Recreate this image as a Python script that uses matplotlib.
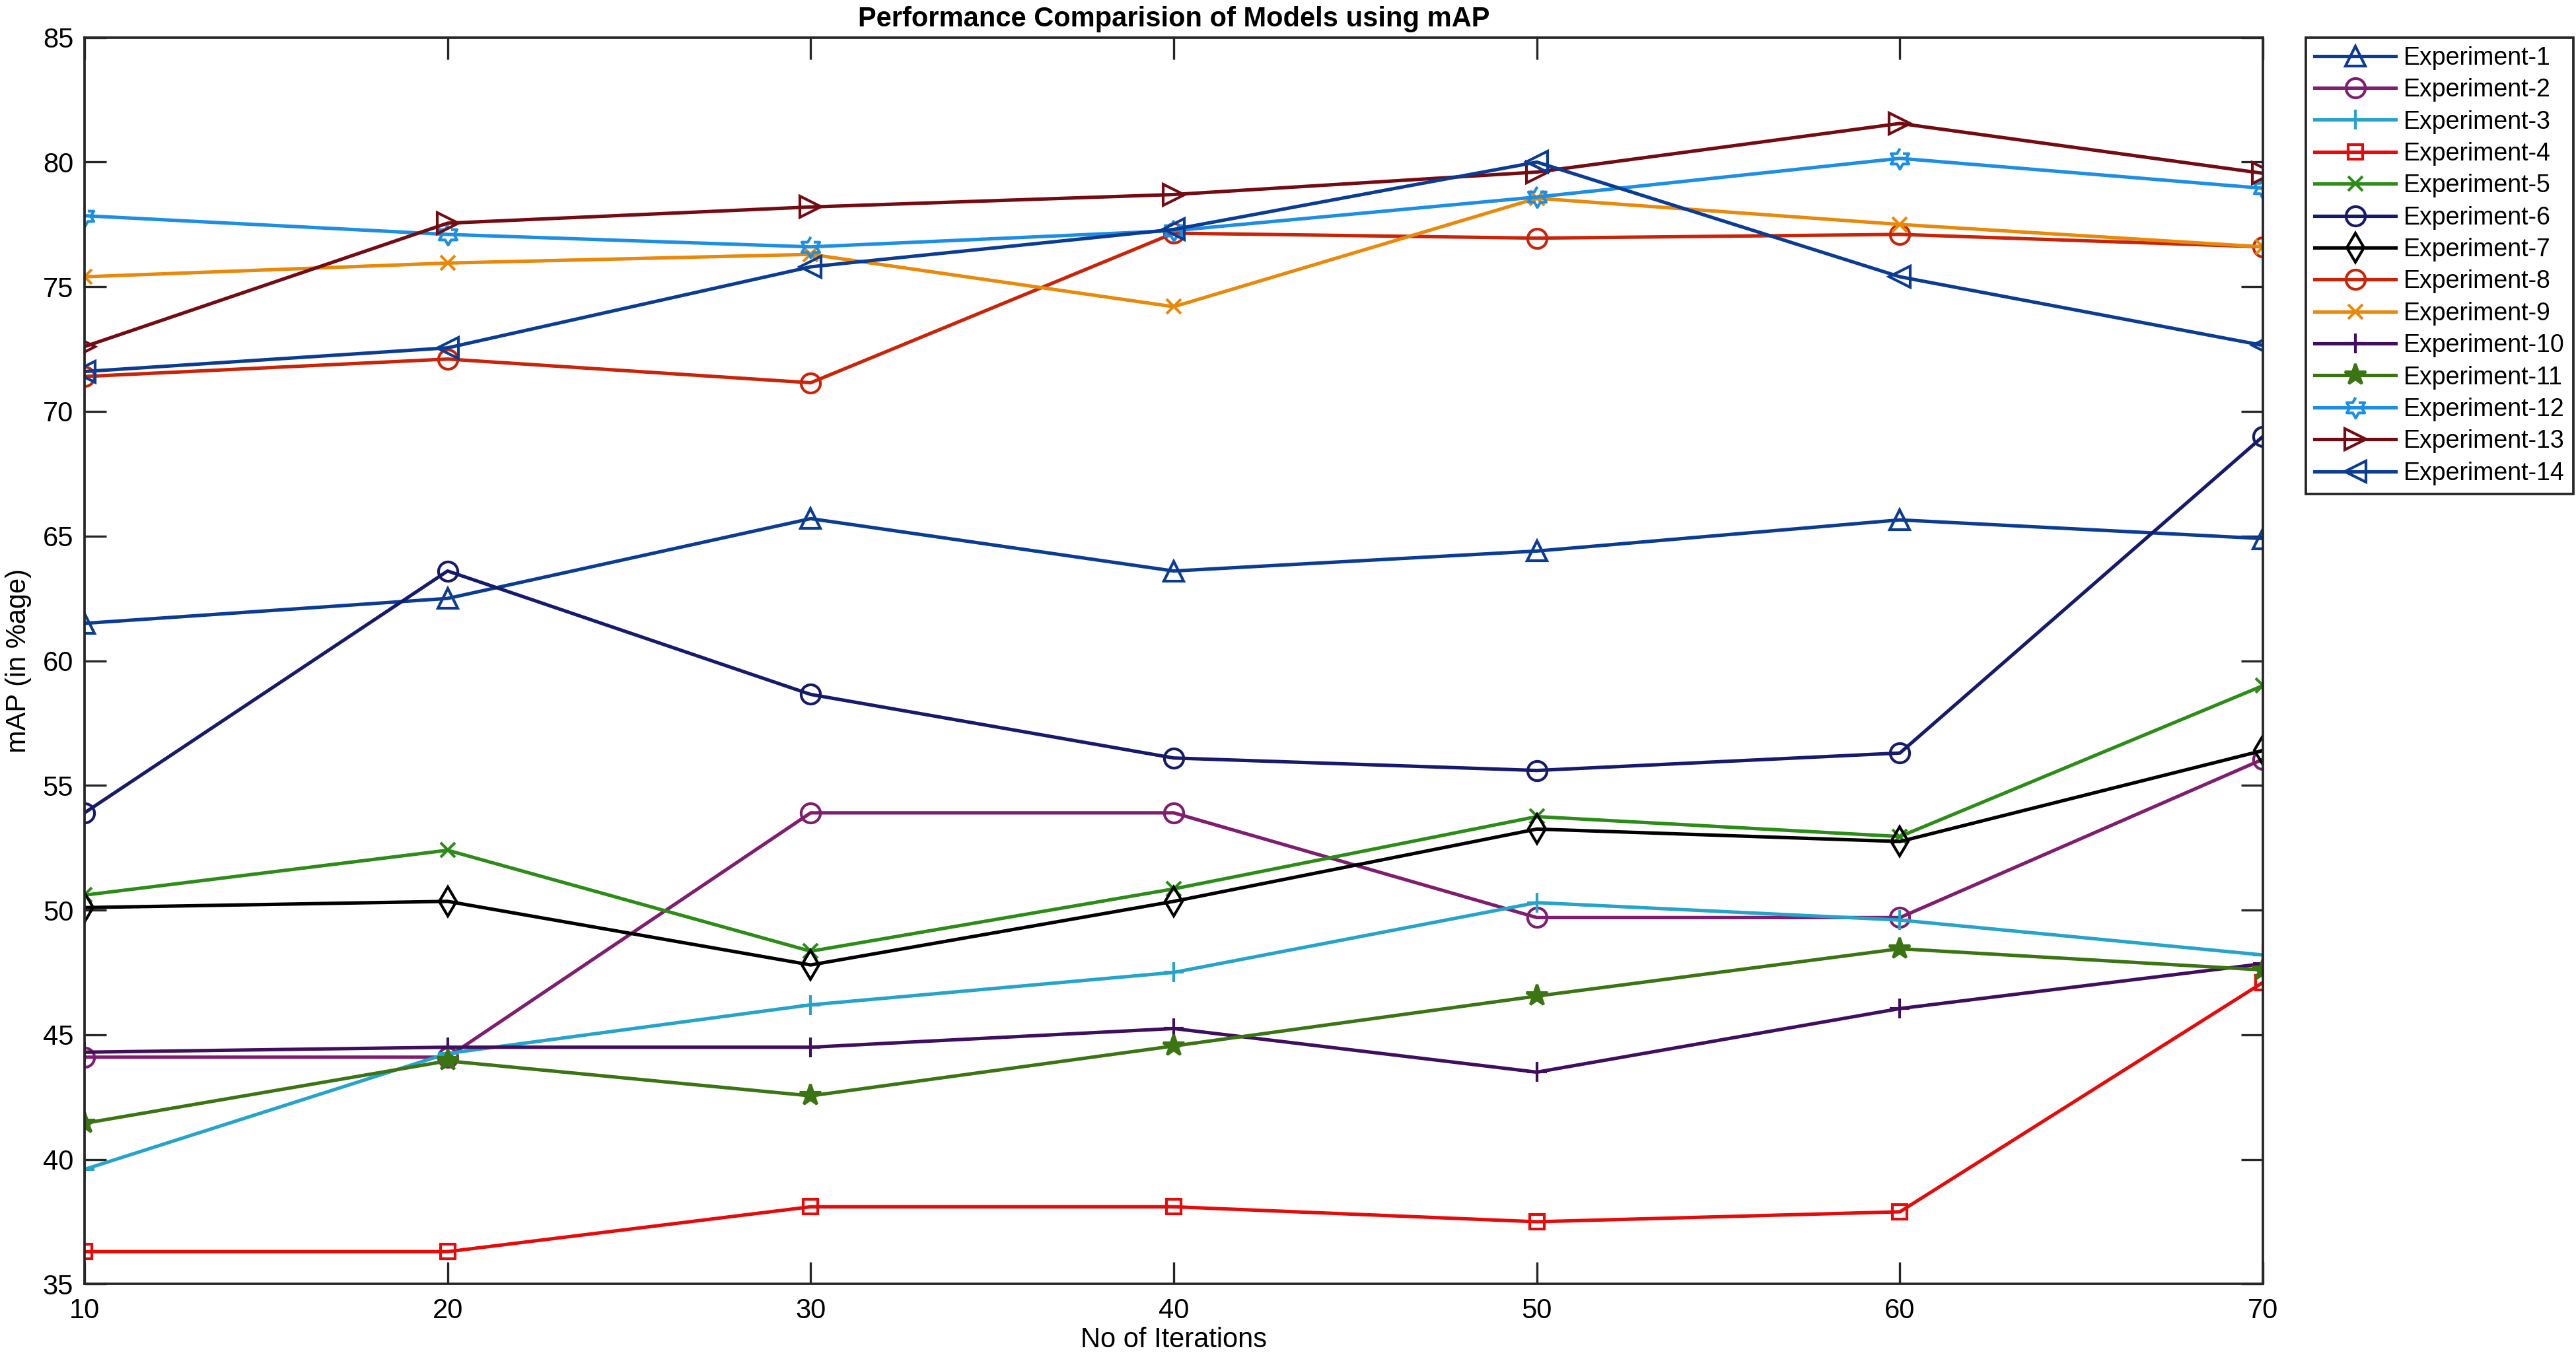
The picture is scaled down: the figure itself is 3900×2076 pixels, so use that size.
import numpy as np
import matplotlib
matplotlib.use("Agg")
import matplotlib.pyplot as plt

plt.rcParams['font.family'] = ['Liberation Sans', 'DejaVu Sans']

# iterations on the x axis
iterations = [10, 20, 30, 40, 50, 60, 70]

# mAP values (%)
exp1 = [61.5, 62.5, 65.7, 63.6, 64.4, 65.65, 64.9]
exp2 = [44.1, 44.1, 53.9, 53.9, 49.7, 49.7, 56.05]
exp3 = [39.6, 44.25, 46.2, 47.5, 50.3, 49.6, 48.2]
exp4 = [36.3, 36.3, 38.1, 38.1, 37.5, 37.9, 47.1]
exp5 = [50.6, 52.4, 48.35, 50.85, 53.75, 52.95, 59.0]
exp6 = [53.9, 63.6, 58.65, 56.1, 55.6, 56.3, 69.0]
exp7 = [50.1, 50.35, 47.8, 50.35, 53.25, 52.75, 56.4]
exp8 = [71.4, 72.1, 71.15, 77.15, 76.95, 77.1, 76.6]
exp9 = [75.4, 75.95, 76.3, 74.2, 78.55, 77.5, 76.6]
exp10 = [44.3, 44.5, 44.5, 45.25, 43.5, 46.05, 47.85]
exp11 = [41.45, 43.95, 42.55, 44.55, 46.55, 48.45, 47.6]
exp12 = [77.85, 77.1, 76.6, 77.25, 78.6, 80.15, 78.95]
exp13 = [72.6, 77.55, 78.2, 78.7, 79.6, 81.55, 79.55]
exp14 = [71.6, 72.55, 75.8, 77.3, 80.0, 75.4, 72.65]

series = [exp1, exp2, exp3, exp4, exp5, exp6, exp7,
          exp8, exp9, exp10, exp11, exp12, exp13, exp14]
labels = ['Experiment-%d' % (i + 1) for i in range(14)]

# six pointed star (hexagram) marker
ang_out = np.deg2rad(90 + 60 * np.arange(6))
ang_in = ang_out + np.deg2rad(30)
hexagram = []
for a, b in zip(ang_out, ang_in):
    hexagram.append((np.cos(a), np.sin(a)))
    hexagram.append((np.cos(b) / np.sqrt(3), np.sin(b) / np.sqrt(3)))

colors = ['#0b3c93', '#7f1d6f', '#26a3c9', '#e50b0b', '#2c8c17', '#161a6c',
          '#000000', '#c92409', '#e8890a', '#3f0f5e', '#3b7412', '#1c8ee3',
          '#730b12', '#0b3c93']
markers = ['^', 'o', '+', 's', 'x', 'o', 'd', 'o', 'x', '+', '*', hexagram,
           '>', '<']
msizes = [7, 7, 7, 5.5, 5.5, 7, 7.5, 7, 5.5, 7, 8, 7.5, 7.5, 7.5]

fig = plt.figure(figsize=(13, 6.92), dpi=300)
ax = fig.add_axes([0.0328, 0.0634, 0.8457, 0.9093])

for y, lab, c, m, ms in zip(series, labels, colors, markers, msizes):
    face = c if m == '*' else 'none'
    ax.plot(iterations, y, color=c, marker=m, markersize=ms,
            markerfacecolor=face, markeredgecolor=c, markeredgewidth=1.0,
            linewidth=1.25, label=lab)

ax.set_xlim(10, 70)
ax.set_ylim(35, 85)
ax.set_xticks(iterations)
ax.set_yticks(np.arange(35, 86, 5))
ax.tick_params(direction='in', length=8, width=0.8, top=True, right=True,
               labelsize=10, pad=4, colors='#262626', labelcolor='black')
ax.tick_params(axis='x', pad=5)
for sp in ax.spines.values():
    sp.set_linewidth(0.9)
    sp.set_color('#262626')

ax.set_xlabel('No of Iterations', fontsize=10, labelpad=1)
ax.set_ylabel('mAP (in %age)', fontsize=10, labelpad=4)
ax.set_title('Performance Comparision of Models using mAP', fontsize=10,
             fontweight='bold', pad=4)

leg = ax.legend(loc='upper left', bbox_to_anchor=(0.895, 0.9727),
                bbox_transform=fig.transFigure, borderaxespad=0,
                fontsize=9, handlelength=3.3, handletextpad=0.3,
                labelspacing=0.33, borderpad=0.35, fancybox=False,
                framealpha=1, edgecolor='#262626')
leg.get_frame().set_linewidth(0.9)

fig.savefig('out.png', dpi=300)
